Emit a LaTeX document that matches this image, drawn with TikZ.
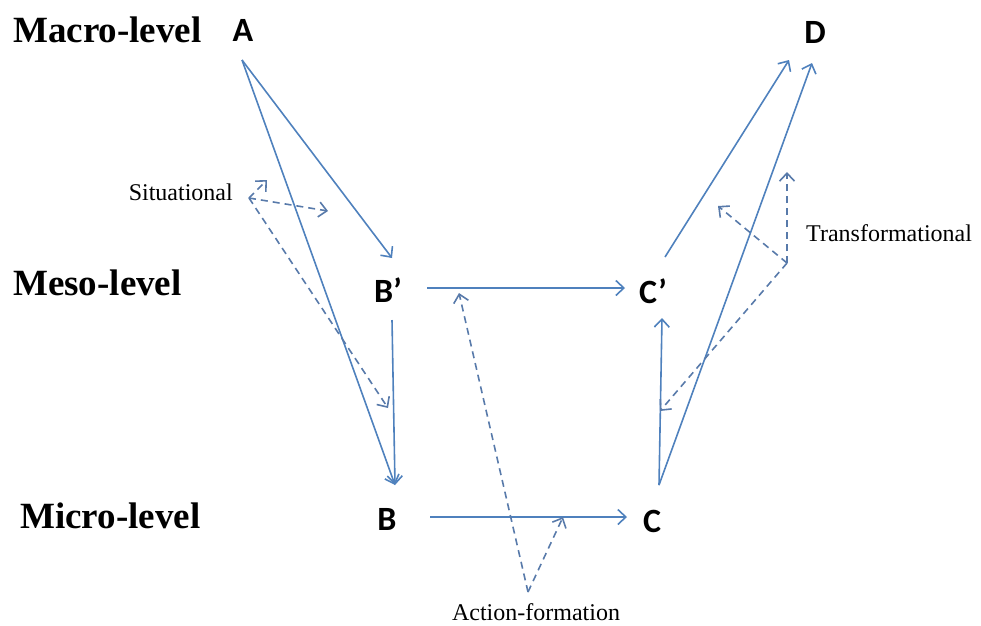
\documentclass[tikz,border=0pt]{standalone}
\usepackage{fontspec}
\setmainfont{Liberation Serif}
\newfontfamily\letterfont{Carlito}
\usepackage{xcolor}
\usetikzlibrary{arrows.meta}
\definecolor{linkblue}{RGB}{79,129,189}
\definecolor{dashblue}{RGB}{88,122,170}

\begin{document}
\begin{tikzpicture}[x=1pt, y=-1pt,
  every node/.style={inner sep=0pt},
  level/.style={font=\fontsize{37}{40}\selectfont\bfseries, anchor=base west},
  pt/.style={font=\letterfont\fontsize{34}{36}\selectfont\bfseries, anchor=base},
  ann/.style={font=\fontsize{24}{26}\selectfont},
  arrow/.style={-{Straight Barb[length=8pt,width=15pt]}, linkblue, line width=1.6pt},
  darrow/.style={arrow, dashblue, dash pattern=on 7pt off 5pt}
]
\useasboundingbox (0,0) rectangle (981,625);

% levels
\node[level] (macro) at (13,42)  {Macro-level};
\node[level] (meso)  at (13,295) {Meso-level};
\node[level] (micro) at (20,528) {Micro-level};

% states
\node[pt] (A)  at (243,41)  {A};
\node[pt] (Bp) at (388,302) {B’};
\node[pt] (B)  at (387,530) {B};
\node[pt] (Cp) at (653,303) {C’};
\node[pt] (C)  at (652,532) {C};
\node[pt] (D)  at (815,43)  {D};

\node[ann, anchor=east] (sit)   at (233,192) {Situational};
\node[ann, anchor=west] (trans) at (806,233) {Transformational};
\node[ann]              (act)   at (536,612) {Action-formation};

% connector ends
\coordinate (Aout)   at (242,60);
\coordinate (Bpin)   at (392,258);
\coordinate (Bpout)  at (392,320);
\coordinate (Bin)    at (395,485);
\coordinate (Bpr)    at (427,288);
\coordinate (Cpl)    at (625,288);
\coordinate (Br)     at (430,517);
\coordinate (Cl)     at (627,517);
\coordinate (Cout)   at (659,485);
\coordinate (Cpin)   at (662,318);
\coordinate (Cpout)  at (665,257);
\coordinate (Dl)     at (789,60);
\coordinate (Dr)     at (812,63);

\coordinate (sitpt)   at (249,198);
\coordinate (actpt)   at (528,592);
\coordinate (transpt) at (787,263);

\draw[arrow] (Aout) -- (Bpin);
\draw[arrow] (Aout) -- (Bin);
\draw[arrow] (Bpout) -- (Bin);
\draw[arrow] (Bpr) -- (Cpl);
\draw[arrow] (Br) -- (Cl);
\draw[arrow] (Cout) -- (Cpin);
\draw[arrow] (Cout) -- (Dr);
\draw[arrow] (Cpout) -- (Dl);

\draw[darrow] (sitpt) -- (267,180);
\draw[darrow] (sitpt) -- (328,211);
\draw[darrow] (sitpt) -- (388,408);
\draw[darrow] (actpt) -- (459,293);
\draw[darrow] (actpt) -- (563,517);
\draw[darrow] (transpt) -- (787,172);
\draw[darrow] (transpt) -- (718,206);
\draw[darrow] (transpt) -- (660,411);
\end{tikzpicture}
\end{document}
